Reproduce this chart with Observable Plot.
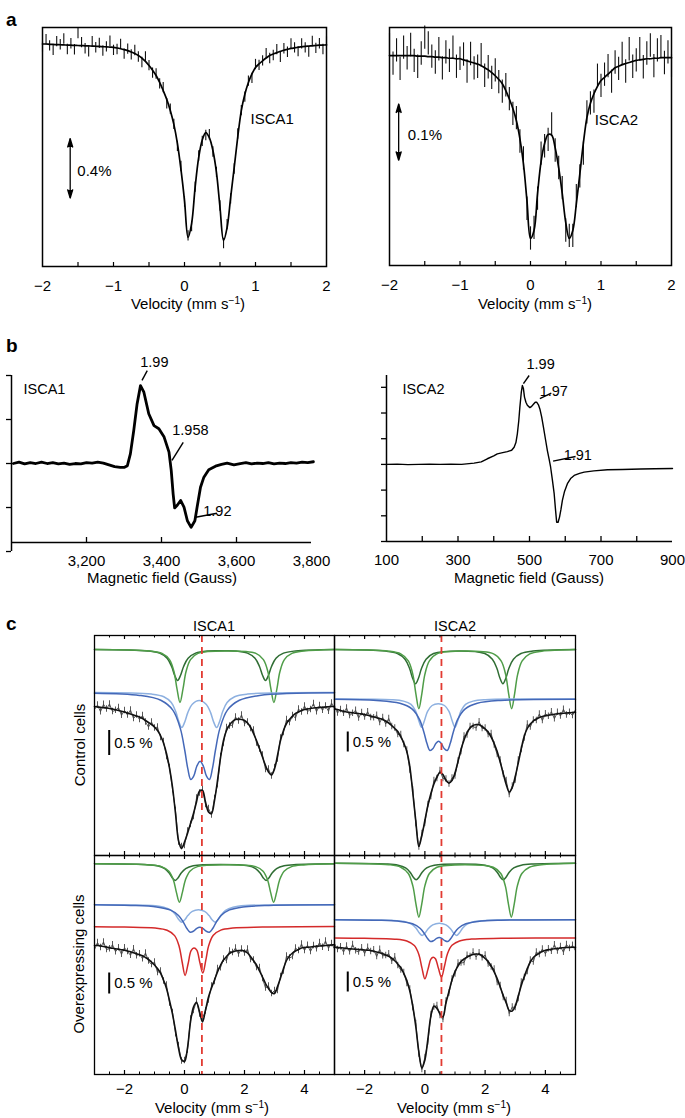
<!DOCTYPE html>
<html><head><meta charset="utf-8">
<script src="https://cdn.jsdelivr.net/npm/d3@7"></script>
<script src="https://cdn.jsdelivr.net/npm/@observablehq/plot@0.6"></script>
<style>
body{margin:0;background:#fff;}
#fig{position:relative;width:685px;height:1118px;overflow:hidden;font-family:"Liberation Sans",Arial,Helvetica,sans-serif;color:#000;background:#fff;}
#fig svg{position:absolute;overflow:visible;}
.lbl{position:absolute;white-space:nowrap;line-height:1;}
.lbl sup{font-size:0.68em;line-height:0;vertical-align:0.5em;}
</style></head><body><div id="fig"></div><script>
// ---------------- DATA ----------------
// Panel a: velocity channels (mm/s) and absorption (%) of fit and residuals of data
const vA = [-2.00,-1.95,-1.90,-1.85,-1.80,-1.75,-1.70,-1.65,-1.60,-1.55,-1.50,-1.45,-1.40,-1.35,-1.30,-1.25,-1.20,-1.15,-1.10,-1.05,-1.00,-0.95,-0.90,-0.85,-0.80,-0.75,-0.70,-0.65,-0.60,-0.55,-0.50,-0.45,-0.40,-0.35,-0.30,-0.25,-0.20,-0.15,-0.10,-0.05,0,0.05,0.10,0.15,0.20,0.25,0.30,0.35,0.40,0.45,0.50,0.55,0.60,0.65,0.70,0.75,0.80,0.85,0.90,0.95,1.00,1.05,1.10,1.15,1.20,1.25,1.30,1.35,1.40,1.45,1.50,1.55,1.60,1.65,1.70,1.75,1.80,1.85,1.90,1.95,2.00];
const fitA1 = [-0.01,-0.01,-0.008,-0.007,-0.006,-0.005,-0.004,-0.003,-0.002,-0.001,
 0,0.001,0.002,0.003,0.004,0.005,0.006,0.008,0.009,0.011,
 0.013,0.017,0.022,0.028,0.035,0.044,0.054,0.068,0.085,0.108,
 0.136,0.167,0.203,0.25,0.305,0.365,0.441,0.535,0.664,0.84,
 1.051,1.30,1.207,0.96,0.759,0.64,0.59,0.625,0.712,0.86,
 1.098,1.322,1.234,1.03,0.827,0.62,0.441,0.33,0.251,0.193,
 0.149,0.125,0.104,0.085,0.068,0.058,0.048,0.04,0.032,0.026,
 0.02,0.016,0.012,0.009,0.006,0.004,0.002,0,-0.002,-0.003,-0.004];
const resA1 = [0.02,-0.03,0.01,0.04,-0.02,0.00,-0.04,0.03,-0.01,0.03,
 -0.08,-0.02,0.02,0.04,-0.03,0.01,-0.02,0.03,0.00,-0.04,
 0.02,0.01,-0.03,0.03,-0.01,0.02,-0.02,0.01,0.03,-0.03,
 0.00,0.02,-0.01,0.01,-0.02,0.03,-0.01,0.00,0.02,-0.02,
 0.01,-0.01,0.02,0.00,-0.01,0.01,0.02,-0.02,0.01,0.00,
 -0.01,0.02,-0.02,0.01,0.01,-0.02,0.00,0.02,-0.01,0.03,
 -0.02,0.01,0.00,-0.03,0.02,0.01,-0.02,0.04,-0.01,0.02,
 -0.03,0.00,0.03,-0.02,0.01,0.04,-0.03,0.02,-0.01,0.03,-0.02];
const errA1 = 0.035;
const fitA2 = [0,0,0,0,0,0,0,0,0.001,0.001,
 0.001,0.002,0.002,0.003,0.003,0.004,0.004,0.005,0.005,0.006,
 0.006,0.008,0.01,0.012,0.014,0.016,0.019,0.023,0.027,0.032,
 0.038,0.045,0.053,0.066,0.082,0.1,0.123,0.157,0.204,0.274,
 0.345,0.33,0.26,0.2,0.166,0.149,0.15,0.174,0.212,0.26,
 0.315,0.345,0.33,0.28,0.223,0.165,0.117,0.09,0.072,0.058,
 0.047,0.041,0.035,0.029,0.023,0.02,0.017,0.015,0.013,0.011,
 0.009,0.008,0.007,0.006,0.006,0.005,0.005,0.004,0.004,0.004,0.004];
const resA2 = [-0.02,0.015,-0.01,0.025,-0.015,0.005,-0.02,0.01,0.02,-0.005,
 -0.035,-0.025,0.0,0.01,-0.015,0.02,-0.01,0.005,-0.02,0.015,
 0.0,-0.01,0.02,-0.015,0.01,0.005,-0.02,0.015,-0.005,0.01,
 -0.01,0.005,0.015,-0.01,0.0,0.01,-0.005,0.005,-0.01,0.015,
 0.0,-0.005,0.01,-0.015,0.005,0.01,-0.02,0.005,0.0,-0.01,
 0.015,-0.005,0.01,-0.015,0.005,0.02,-0.01,0.0,0.015,-0.02,
 0.01,-0.005,-0.015,0.02,-0.01,0.005,-0.02,0.015,-0.025,0.01,
 0.0,-0.02,0.015,-0.01,-0.025,0.015,-0.015,-0.02,0.01,-0.01,0.015];
const errA2 = 0.022;
const ticksA = [-1.5,-1,-0.5,0,0.5,1,1.5];
const labelsA = [-2,-1,0,1,2];

// Panel b: EPR spectra [field (G), signal (a.u.)]
const epr1 = [[3005,0.0],[3020,0.03],[3035,-0.01],[3050,0.02],[3065,0.0],[3080,0.03],[3095,0.0],[3110,0.02],[3125,-0.01],[3140,0.01],[3155,-0.02],[3170,0.0],[3185,-0.01],[3200,0.02],[3215,0.01],[3230,0.03],[3245,0.01],[3260,-0.03],[3275,-0.07],[3290,-0.09],[3300,-0.09],[3309,-0.05],[3317,0.22],[3326,0.75],[3335,1.36],[3344,1.77],[3353,1.62],[3366,1.13],[3380,0.86],[3393,0.79],[3407,0.60],[3420,0.26],[3426,-0.16],[3431,-0.69],[3435,-1.01],[3442,-0.95],[3451,-0.84],[3460,-0.99],[3469,-1.30],[3479,-1.45],[3489,-1.30],[3495,-0.99],[3504,-0.54],[3513,-0.31],[3526,-0.14],[3544,-0.06],[3560,-0.02],[3575,0.01],[3593,-0.03],[3610,0.0],[3625,0.02],[3640,-0.01],[3655,0.01],[3670,0.0],[3685,0.02],[3700,-0.01],[3715,0.01],[3730,0.0],[3745,0.02],[3760,0.01],[3775,0.03],[3790,0.02],[3805,0.04]];
const epr2 = [[100,0.0],[130,0.01],[160,-0.01],[190,0.0],[220,0.01],[250,0.0],[280,0.01],[310,0.0],[345,0.05],[365,0.1],[382,0.22],[400,0.33],[410,0.41],[425,0.46],[438,0.5],[450,0.55],[457,0.67],[462,0.85],[466,1.19],[470,1.7],[473,2.22],[477,2.8],[480,3.07],[483,2.95],[486,2.62],[490,2.42],[494,2.3],[501,2.21],[506,2.26],[511,2.34],[516,2.42],[520,2.42],[525,2.32],[529,2.16],[534,1.85],[539,1.45],[545,0.95],[550,0.54],[555,0.2],[559,-0.1],[564,-0.6],[569,-1.14],[573,-1.8],[576,-2.25],[580,-2.25],[584,-2.05],[588,-1.75],[592,-1.4],[598,-1.05],[606,-0.75],[615,-0.55],[625,-0.43],[640,-0.35],[653,-0.3],[680,-0.25],[718,-0.21],[760,-0.2],[811,-0.18],[850,-0.17],[900,-0.16]];
const notes1 = [{t:"1.99",x:3381,y:2.3,a:"middle",x1:3348,y1:1.89,x2:3362,y2:2.11},{t:"1.958",x:3477,y:0.75,a:"middle",x1:3428,y1:0.07,x2:3458,y2:0.48},{t:"1.92",x:3549,y:-1.09,a:"start",x1:3491,y1:-1.22,x2:3548,y2:-1.13}];
const notes2 = [{t:"1.99",x:531,y:3.89,a:"middle",x1:483,y1:3.14,x2:499,y2:3.46},{t:"1.97",x:568,y:2.84,a:"start",x1:529,y1:2.56,x2:561,y2:2.77},{t:"1.91",x:635,y:0.35,a:"start",x1:566,y1:0.13,x2:629,y2:0.31}];

// Panel c: velocity channels, fits and data residuals (absorption, 0.1 % units, from panel top)
const vC = [-3,-2.9,-2.8,-2.7,-2.6,-2.5,-2.4,-2.3,-2.2,-2.1,-2,-1.9,-1.8,-1.7,-1.6,-1.5,-1.4,-1.3,-1.2,-1.1,-1,-0.9,-0.8,-0.7,-0.6,-0.5,-0.4,-0.3,-0.2,-0.1,0,0.1,0.2,0.3,0.4,0.5,0.6,0.7,0.8,0.9,1,1.1,1.2,1.3,1.4,1.5,1.6,1.7,1.8,1.9,2,2.1,2.2,2.3,2.4,2.5,2.6,2.7,2.8,2.9,3,3.1,3.2,3.3,3.4,3.5,3.6,3.7,3.8,3.9,4,4.1,4.2,4.3,4.4,4.5,4.6,4.7,4.8,4.9,5];
const fitTL = [14.2,14.3,14.35,14.45,14.5,14.6,14.7,14.85,15.0,15.15,
 15.3,15.5,15.7,15.9,16.1,16.3,16.6,17.0,17.4,17.8,
 18.3,19.0,20.0,21.5,23.6,26.5,30.3,35.6,41.0,42.6,
 41.3,39.6,37.6,35.6,33.3,31.1,31.0,33.3,35.3,35.6,
 33.0,29.0,24.5,21.0,19.0,17.9,17.2,16.8,16.7,16.8,
 17.0,17.5,18.3,19.6,21.0,22.6,24.3,26.0,27.3,27.9,
 26.7,24.0,21.0,19.0,17.6,16.8,16.1,15.6,15.3,15.0,
 14.8,14.7,14.6,14.5,14.45,14.4,14.35,14.3,14.25,14.2,14.2];
const fitTR = [14.7,14.8,15.0,15.15,15.3,15.4,15.45,15.55,15.6,15.7,
 15.8,15.95,16.1,16.25,16.45,16.6,16.8,17.1,17.5,18.0,
 18.6,19.2,20.3,21.5,23.2,26.2,31.5,37.2,42.2,40.0,
 37.0,34.0,31.6,29.7,28.3,27.4,27.8,29.0,29.5,29.0,
 27.5,25.2,22.8,20.9,19.4,18.5,18.0,17.8,17.85,18.2,
 18.7,19.3,20.3,21.6,23.2,25.3,27.6,29.8,31.3,30.4,
 28.2,25.5,22.6,20.1,18.6,17.7,17.1,16.7,16.4,16.2,
 16.05,15.95,15.85,15.75,15.65,15.6,15.55,15.5,15.45,15.4,15.35];
const fitBL = [18.0,18.0,18.1,18.2,18.3,18.45,18.55,18.65,18.75,18.85,
 18.95,19.1,19.25,19.45,19.65,19.85,20.05,20.4,20.8,21.3,
 21.9,22.6,23.5,24.9,26.6,29.0,31.7,35.0,38.5,40.8,
 41.2,38.5,33.3,30.3,29.4,31.2,33.3,30.9,28.3,26.5,
 24.9,23.3,21.95,20.9,20.2,19.6,19.3,19.1,19.0,19.0,
 19.1,19.5,20.2,21.0,21.9,23.1,24.3,25.6,26.6,27.4,
 27.6,26.2,24.5,22.6,21.0,20.1,19.5,19.1,18.8,18.5,
 18.4,18.35,18.3,18.2,18.15,18.1,18.05,18.0,17.95,17.9,17.85];
const fitBR = [18.35,18.4,18.45,18.5,18.6,18.65,18.7,18.75,18.8,18.85,
 18.9,18.95,19.0,19.15,19.3,19.45,19.65,19.9,20.15,20.55,
 21.05,21.7,22.4,23.6,25.0,27.1,30.2,34.3,39.3,42.5,
 40.9,36.7,32.1,30.1,30.6,31.6,32.3,29.5,27.2,24.9,
 23.2,22.1,21.2,20.7,20.35,20.0,19.8,19.7,19.75,20.05,
 20.6,21.2,22.1,23.3,24.6,26.3,28.0,29.5,31.0,31.1,
 30.1,28.1,26.0,24.2,22.6,21.3,20.4,19.9,19.5,19.2,
 18.95,18.85,18.75,18.65,18.6,18.5,18.45,18.4,18.38,18.36,18.34];
const resTL = [0.6,-0.4,0.9,-0.7,0.2,-0.9,0.5,0.1,-0.6,0.8,
 -0.3,0.4,-0.8,0.7,-0.2,0.5,-0.6,0.3,0.9,-0.5,
 0.2,-0.7,0.4,-0.3,0.6,-0.1,0.5,-0.6,0.3,-0.4,
 0.7,-0.5,0.2,0.6,-0.8,0.4,-0.2,0.5,-0.7,0.3,
 -0.4,0.8,-0.3,0.5,-0.6,0.2,0.7,-0.5,0.4,-0.9,
 0.6,-0.2,0.3,-0.7,0.5,0.1,-0.4,0.8,-0.6,0.2,
 -0.3,0.7,-0.5,0.4,-0.8,0.6,-0.1,0.9,-0.6,0.3,
 -0.7,0.5,0.2,-0.9,0.8,-0.4,0.6,-0.2,0.9,-0.7,0.4];
const resTR = [-0.5,0.7,-0.2,0.4,-0.8,0.6,0.1,-0.6,0.9,-0.3,
 0.5,-0.7,0.3,0.2,-0.5,0.8,-0.4,0.6,-0.9,0.2,
 -0.1,0.6,-0.5,0.3,-0.3,0.7,-0.6,0.4,0.1,-0.4,
 0.5,-0.2,0.6,-0.7,0.3,-0.4,0.8,-0.3,0.2,-0.5,
 0.6,-0.1,0.4,-0.8,0.5,-0.3,0.2,0.7,-0.6,0.4,
 -0.2,0.5,-0.7,0.3,0.6,-0.4,0.1,-0.8,0.5,-0.3,
 0.7,-0.6,0.2,0.4,-0.9,0.6,-0.2,0.3,-0.7,0.8,
 -0.4,0.2,-0.6,0.9,-0.3,0.5,-0.8,0.4,-0.1,0.6,-0.5];
const resBL = [0.8,-0.6,0.3,-0.9,0.5,0.2,-0.7,0.6,-0.3,0.9,
 -0.5,0.1,0.7,-0.8,0.4,-0.2,0.6,-0.9,0.3,0.5,
 -0.6,0.8,-0.4,0.2,-0.7,0.5,-0.3,0.6,-0.5,0.3,
 -0.2,0.4,-0.6,0.7,-0.3,0.5,-0.8,0.2,0.6,-0.4,
 0.3,-0.7,0.5,-0.2,0.8,-0.5,0.1,-0.6,0.7,-0.3,
 0.4,-0.8,0.6,-0.1,0.5,-0.7,0.3,0.9,-0.5,0.2,
 -0.6,0.8,-0.3,0.5,-0.9,0.4,0.7,-0.6,0.2,-0.8,
 0.6,-0.4,0.9,-0.2,0.5,-0.7,0.3,-0.9,0.6,-0.3,0.8];
const resBR = [-0.7,0.4,-0.2,0.8,-0.5,0.6,-0.9,0.3,0.5,-0.4,
 0.7,-0.6,0.2,-0.3,0.9,-0.7,0.4,0.1,-0.5,0.6,
 -0.8,0.3,0.5,-0.2,0.6,-0.4,0.2,-0.7,0.4,0.3,
 -0.5,0.6,-0.3,0.2,-0.6,0.4,0.5,-0.4,0.3,-0.2,
 0.5,-0.6,0.3,0.7,-0.4,0.2,-0.5,0.6,-0.3,0.4,
 -0.7,0.5,0.2,-0.6,0.8,-0.3,0.4,-0.5,0.6,-0.8,
 0.3,0.5,-0.7,0.2,0.6,-0.4,0.9,-0.6,0.3,-0.5,
 0.7,-0.2,0.4,-0.8,0.5,-0.3,0.9,-0.6,0.2,-0.4,0.7];

// component sub-spectra [velocity, absorption]
const tlG1 = [[-3,2.8],[-1.23,3.09],[-0.83,3.53],[-0.58,4.55],[-0.43,6.2],[-0.33,7.94],[-0.23,9.0],[-0.13,7.94],[-0.03,6.2],[0.12,4.55],[0.37,3.53],[0.77,3.09],[1.24,3.05],[1.7,3.09],[2.1,3.53],[2.35,4.55],[2.5,6.2],[2.6,7.94],[2.7,9.0],[2.8,7.94],[2.9,6.2],[3.05,4.55],[3.3,3.53],[3.7,3.09],[5,2.8]];
const tlG2 = [[-3,2.8],[-1.15,3.1],[-0.75,3.58],[-0.5,4.82],[-0.35,7.24],[-0.25,10.68],[-0.15,13.4],[-0.05,10.68],[0.05,7.24],[0.2,4.82],[0.45,3.58],[1.4,3.1],[2.38,3.58],[2.63,4.82],[2.78,7.24],[2.88,10.68],[2.98,13.4],[3.08,10.68],[3.18,7.24],[3.33,4.82],[3.58,3.58],[3.98,3.1],[5,2.8]];
const tlB1 = [[-3,11.4],[-1.1,11.72],[-0.69,12.24],[-0.44,13.41],[-0.29,15.25],[-0.19,17.19],[-0.09,18.4],[0.01,17.27],[0.11,15.42],[0.26,13.74],[0.49,13.0],[0.72,13.74],[0.87,15.42],[0.97,17.27],[1.07,18.4],[1.17,17.19],[1.27,15.25],[1.42,13.41],[1.67,12.24],[2.1,11.72],[5,11.4]];
const tlB2 = [[-3,11.54],[-1.5,11.98],[-0.79,12.95],[-0.39,14.92],[-0.14,18.58],[0.01,23.0],[0.11,26.64],[0.21,28.8],[0.31,28.08],[0.41,26.14],[0.52,25.16],[0.63,26.14],[0.73,28.08],[0.83,28.8],[0.93,26.64],[1.03,23.0],[1.18,18.58],[1.43,14.92],[1.83,12.95],[2.5,11.98],[5,11.45]];
const trG1 = [[-3,2.8],[-1.31,3.12],[-0.91,3.61],[-0.66,4.74],[-0.51,6.56],[-0.41,8.49],[-0.31,9.66],[-0.21,8.49],[-0.11,6.56],[0.04,4.74],[0.29,3.61],[1.14,3.1],[1.99,3.61],[2.24,4.74],[2.39,6.56],[2.49,8.49],[2.59,9.66],[2.69,8.49],[2.79,6.56],[2.94,4.74],[3.19,3.61],[3.59,3.12],[5,2.8]];
const trG2 = [[-3,2.8],[-1.2,3.13],[-0.8,3.68],[-0.55,5.07],[-0.4,7.77],[-0.3,11.61],[-0.2,14.66],[-0.1,11.61],[0,7.77],[0.15,5.07],[0.4,3.68],[1.34,3.12],[2.28,3.68],[2.53,5.07],[2.68,7.77],[2.78,11.61],[2.88,14.66],[2.98,11.61],[3.08,7.77],[3.23,5.07],[3.48,3.68],[3.88,3.13],[5,2.8]];
const trB1 = [[-3,12.7],[-1.11,12.83],[-0.71,13.12],[-0.46,13.79],[-0.31,15.08],[-0.21,16.88],[-0.11,18.34],[-0.01,16.93],[0.09,15.17],[0.24,14.0],[0.445,13.66],[0.65,14.0],[0.8,15.17],[0.9,16.93],[1.0,18.34],[1.1,16.88],[1.2,15.08],[1.35,13.79],[1.6,13.12],[2.0,12.83],[5,12.7]];
const trB2 = [[-3,12.75],[-1.6,12.99],[-0.83,13.56],[-0.43,14.68],[-0.18,16.77],[-0.03,19.4],[0.07,21.62],[0.17,23.0],[0.27,22.6],[0.37,21.53],[0.455,21.14],[0.54,21.53],[0.64,22.6],[0.74,23.0],[0.84,21.62],[0.94,19.4],[1.09,16.77],[1.34,14.68],[1.74,13.56],[2.51,12.99],[5,12.75]];
const blG1 = [[-3,1.66],[-1.31,1.81],[-0.91,2.05],[-0.66,2.61],[-0.51,3.49],[-0.41,4.43],[-0.31,5.0],[-0.21,4.43],[-0.11,3.49],[0.04,2.61],[0.29,2.05],[1.2,1.8],[2.12,2.05],[2.37,2.61],[2.52,3.49],[2.62,4.43],[2.72,5.0],[2.82,4.43],[2.92,3.49],[3.07,2.61],[3.32,2.05],[3.72,1.81],[5,1.66]];
const blG2 = [[-3,1.66],[-1.17,1.88],[-0.77,2.23],[-0.52,3.13],[-0.37,4.88],[-0.27,7.37],[-0.17,9.34],[-0.07,7.37],[0.03,4.88],[0.18,3.13],[0.43,2.23],[1.4,1.87],[2.37,2.23],[2.62,3.13],[2.77,4.88],[2.87,7.37],[2.97,9.34],[3.07,7.37],[3.17,4.88],[3.32,3.13],[3.57,2.23],[3.97,1.88],[5,1.66]];
const blB1 = [[-3,9.85],[-1.09,10.01],[-0.69,10.34],[-0.44,10.97],[-0.29,11.91],[-0.19,12.82],[-0.09,13.34],[0.01,12.87],[0.11,12.02],[0.26,11.19],[0.465,10.86],[0.67,11.19],[0.82,12.02],[0.92,12.87],[1.02,13.34],[1.12,12.82],[1.22,11.91],[1.37,10.97],[1.62,10.34],[2.02,10.01],[5,9.85]];
const blB2 = [[-3,9.85],[-1.79,9.98],[-0.93,10.28],[-0.48,10.88],[-0.2,12.0],[-0.03,13.41],[0.08,14.61],[0.19,15.34],[0.3,15.13],[0.41,14.56],[0.51,14.36],[0.61,14.56],[0.72,15.13],[0.83,15.34],[0.94,14.61],[1.05,13.41],[1.22,12.0],[1.5,10.88],[1.95,10.28],[2.81,9.98],[5,9.85]];
const blR = [[-3,14.23],[-2,14.32],[-0.98,14.52],[-0.58,14.96],[-0.33,16.03],[-0.18,18.14],[-0.08,21.25],[0.02,23.99],[0.12,21.65],[0.22,19.04],[0.315,18.5],[0.41,18.91],[0.51,21.34],[0.61,23.51],[0.71,20.93],[0.81,17.96],[0.96,15.96],[1.21,14.93],[1.61,14.51],[2.6,14.32],[5,14.22]];
const brG1 = [[-3,1.54],[-1.29,1.69],[-0.89,1.93],[-0.64,2.48],[-0.49,3.36],[-0.39,4.29],[-0.29,4.86],[-0.19,4.29],[-0.09,3.36],[0.06,2.48],[0.31,1.93],[1.16,1.68],[2.0,1.93],[2.25,2.48],[2.4,3.36],[2.5,4.29],[2.6,4.86],[2.7,4.29],[2.8,3.36],[2.95,2.48],[3.2,1.93],[3.6,1.69],[5,1.54]];
const brG2 = [[-3,1.54],[-1.2,1.84],[-0.8,2.34],[-0.55,3.6],[-0.4,6.07],[-0.3,9.56],[-0.2,12.34],[-0.1,9.56],[0,6.07],[0.15,3.6],[0.4,2.34],[1.33,1.83],[2.27,2.34],[2.52,3.6],[2.67,6.07],[2.77,9.56],[2.87,12.34],[2.97,9.56],[3.07,6.07],[3.22,3.6],[3.47,2.34],[3.87,1.84],[5,1.54]];
const brB1 = [[-3,12.85],[-1.09,12.97],[-0.69,13.21],[-0.44,13.73],[-0.29,14.57],[-0.19,15.45],[-0.09,16.0],[0.01,15.49],[0.11,14.64],[0.26,13.88],[0.48,13.54],[0.7,13.88],[0.85,14.64],[0.95,15.49],[1.05,16.0],[1.15,15.45],[1.25,14.57],[1.4,13.73],[1.65,13.21],[2.05,12.97],[5,12.85]];
const brB2 = [[-3,12.83],[-1.58,12.94],[-0.81,13.18],[-0.41,13.66],[-0.16,14.55],[-0.01,15.67],[0.09,16.61],[0.19,17.2],[0.29,17.03],[0.39,16.58],[0.475,16.41],[0.56,16.58],[0.66,17.03],[0.76,17.2],[0.86,16.61],[0.96,15.67],[1.11,14.55],[1.36,13.66],[1.76,13.18],[2.53,12.94],[5,12.83]];
const brR = [[-3,16.5],[-2,16.56],[-1,16.73],[-0.6,17.11],[-0.35,18.02],[-0.2,19.78],[-0.1,22.42],[0,24.66],[0.1,22.82],[0.2,20.72],[0.275,20.34],[0.35,20.64],[0.45,22.57],[0.55,24.34],[0.65,22.15],[0.75,19.64],[0.9,17.96],[1.15,17.09],[1.55,16.72],[2.55,16.56],[5,16.48]];
// scale bars [velocity, from, to] and red reference line velocity
const barTL = [-2.51,19.0,24.0], barTR = [-2.56,19.3,23.3], barBL = [-2.51,23.5,27.7], barBR = [-2.56,23.3,27.3];
const redV = {left: 0.58, right: 0.55};
const ticksCmajor = [-2,0,2,4];
const ticksCminor = [-2.5,-1.5,-1,-0.5,0.5,1,1.5,2.5,3,3.5,4.5];

// ---------------- DRAWING ----------------
const FONT = '"Liberation Sans", Arial, Helvetica, sans-serif';
const fig = document.getElementById("fig");
const C = {gD:"#2f6d33", gL:"#4f9d48", bD:"#4468b8", bL:"#8db0e0", r:"#d42a2a", dash:"#e23b32", data:"#444"};
const baseStyle = {fontFamily: FONT, fontSize: "15px", color: "#000", background: "transparent", overflow: "visible"};

function place(svg, left, top) { svg.style.left = left + "px"; svg.style.top = top + "px"; fig.appendChild(svg); }

function label(html, x, y, o = {}) {
  const size = o.size || 15;
  const d = document.createElement("div");
  d.className = "lbl";
  d.innerHTML = html;
  d.style.fontSize = size + "px";
  if (o.bold) d.style.fontWeight = "bold";
  if (o.rotate) {
    d.style.left = (x - 0.3465 * size) + "px";
    d.style.top = y + "px";
    d.style.transform = "translate(-50%,-50%) rotate(-90deg)";
  } else {
    d.style.left = x + "px";
    d.style.top = (y - 0.8465 * size) + "px";
    if (o.anchor === "middle") d.style.transform = "translateX(-50%)";
  }
  fig.appendChild(d);
}

function panelA(o) {
  const [fl, ft, fw, fh] = o.frame;
  const ml = 20, mr = 10, mt = 10, mb = 34;
  const obs = vA.map((v, i) => ({v, y: o.fit[i] + o.res[i]}));
  const fitD = vA.map((v, i) => ({v, y: o.fit[i]}));
  const svg = Plot.plot({
    width: fw + ml + mr, height: fh + mt + mb,
    marginLeft: ml, marginRight: mr, marginTop: mt, marginBottom: mb,
    style: baseStyle,
    x: {domain: [-2, 2]},
    y: {domain: o.yd, reverse: true, axis: null},
    marks: [
      Plot.ruleX(obs, {x: "v", y1: d => d.y - o.err, y2: d => d.y + o.err, stroke: "#111", strokeWidth: 1.1}),
      Plot.line(fitD, {x: "v", y: "y", curve: "catmull-rom", stroke: "#000", strokeWidth: 1.7}),
      Plot.frame({stroke: "#000", strokeWidth: 1.5}),
      Plot.tickX(ticksA, {x: d => d, insetTop: fh - 4, stroke: "#000", strokeWidth: 1.2}),
      Plot.axisX({ticks: labelsA, tickSize: 0, tickPadding: 14, tickFormat: d3.format("d"), label: null}),
      Plot.ruleX([o.arrow], {x: "v", y1: "y1", y2: "y2", stroke: "#000", strokeWidth: 1.3}),
      Plot.vector([o.arrow], {x: "v", y: "y1", length: 8, r: 2.4, rotate: 0, anchor: "end", shape: "spike", fill: "#000", stroke: "#000"}),
      Plot.vector([o.arrow], {x: "v", y: "y2", length: 8, r: 2.4, rotate: 180, anchor: "end", shape: "spike", fill: "#000", stroke: "#000"}),
      Plot.text(o.texts, {x: "x", y: "y", text: "t", textAnchor: "start", fontSize: 15})
    ]
  });
  place(svg, fl - ml, ft - mt);
}

function panelB(o) {
  const [fl, ft, fw, fh] = o.frame;
  const ml = 20, mr = 25, mt = 30, mb = 34;
  const svg = Plot.plot({
    width: fw + ml + mr, height: fh + mt + mb,
    marginLeft: ml, marginRight: mr, marginTop: mt, marginBottom: mb,
    style: baseStyle,
    x: {domain: o.xd},
    y: {domain: o.yd},
    marks: [
      Plot.ruleY([o.yd[0]], {stroke: "#000", strokeWidth: 1.5}),
      Plot.ruleX([o.xd[0]], {y1: o.yTicks[0], y2: o.yd[1], stroke: "#000", strokeWidth: 1.5}),
      Plot.axisY({ticks: o.yTicks, tickSize: 5, tickFormat: () => "", strokeWidth: 1.3}),
      Plot.tickX(o.xTicks, {x: d => d, insetTop: fh - 5, stroke: "#000", strokeWidth: 1.3}),
      Plot.axisX({ticks: o.xLabels, tickSize: 0, tickPadding: 13, tickFormat: d3.format(","), label: null}),
      Plot.line(o.data, {x: d => d[0], y: d => d[1], stroke: "#000", strokeWidth: o.sw, strokeLinejoin: "round"}),
      Plot.link(o.notes, {x1: "x1", y1: "y1", x2: "x2", y2: "y2", stroke: "#000", strokeWidth: 1.4}),
      Plot.text(o.notes, {x: "x", y: "y", text: "t", textAnchor: "a", fontSize: 14.5}),
      Plot.text([o.name], {x: "x", y: "y", text: "t", textAnchor: "start", fontSize: 14.5})
    ]
  });
  place(svg, fl - ml, ft - mt);
}

function panelC(o) {
  const [fl, ft, fw, fh] = o.frame;
  const ml = 10, mr = 10, mt = 10, mb = o.labels ? 30 : 10;
  const obs = vC.map((v, i) => ({v, u: o.fit[i] + o.res[i]}));
  const fitD = vC.map((v, i) => ({v, u: o.fit[i]}));
  const marks = [
    Plot.ruleX(obs, {x: "v", y1: d => d.u - 0.65, y2: d => d.u + 0.65, stroke: C.data, strokeWidth: 0.9}),
    Plot.line(obs, {x: "v", y: "u", stroke: C.data, strokeWidth: 0.9}),
    ...o.comps.map(c => Plot.line(c[0], {x: d => d[0], y: d => d[1], curve: "catmull-rom", stroke: c[1], strokeWidth: 1.5})),
    Plot.line(fitD, {x: "v", y: "u", curve: "catmull-rom", stroke: "#111", strokeWidth: 1.6}),
    Plot.ruleX([o.red], {x: d => d, stroke: C.dash, strokeWidth: 1.8, strokeDasharray: "7,5"}),
    Plot.ruleX([o.bar], {x: d => d[0], y1: d => d[1], y2: d => d[2], stroke: "#000", strokeWidth: 2}),
    Plot.text([o.bar], {x: d => d[0], y: d => (d[1] + d[2]) / 2, text: () => "0.5 %", textAnchor: "start", dx: 5, fontSize: 15}),
    Plot.frame({stroke: "#000", strokeWidth: 1.3}),
    Plot.tickX(ticksCmajor, {x: d => d, insetTop: fh - 4, stroke: "#000", strokeWidth: 1.2}),
    Plot.tickX(ticksCmajor, {x: d => d, insetBottom: fh - 4, stroke: "#000", strokeWidth: 1.2}),
    Plot.tickX(ticksCminor, {x: d => d, insetTop: fh - 2.5, stroke: "#000", strokeWidth: 1}),
    Plot.tickX(ticksCminor, {x: d => d, insetBottom: fh - 2.5, stroke: "#000", strokeWidth: 1})
  ];
  if (o.labels) marks.push(Plot.axisX({ticks: ticksCmajor, tickSize: 0, tickPadding: 9, label: null}));
  const svg = Plot.plot({
    width: fw + ml + mr, height: fh + mt + mb,
    marginLeft: ml, marginRight: mr, marginTop: mt, marginBottom: mb,
    style: baseStyle,
    x: {domain: [-3, 5], axis: null},
    y: {domain: [0, fh / 5], reverse: true, axis: null},
    marks
  });
  place(svg, fl - ml, ft - mt);
}

// ---- panel a
panelA({frame: [42, 27, 284, 239], yd: [-0.122, 1.498], fit: fitA1, res: resA1, err: errA1,
  arrow: {v: -1.61, y1: 0.633, y2: 1.033},
  texts: [{x: 0.93, y: 0.498, t: "ISCA1"}, {x: -1.51, y: 0.854, t: "0.4%"}]});
panelA({frame: [389, 27, 282, 238], yd: [-0.053, 0.396], fit: fitA2, res: resA2, err: errA2,
  arrow: {v: -1.87, y1: 0.092, y2: 0.197},
  texts: [{x: 0.91, y: 0.121, t: "ISCA2"}, {x: -1.74, y: 0.151, t: "0.1%"}]});

// ---- panel b
panelB({frame: [11, 375, 300, 167], xd: [3000, 3800], yd: [-1.795, 2.0], yTicks: [-2, -1, 0, 1, 2],
  xTicks: [3200, 3400, 3600], xLabels: [3200, 3400, 3600, 3800], data: epr1, sw: 2.8, notes: notes1,
  name: {x: 3032, y: 1.68, t: "ISCA1"}});
panelB({frame: [386, 375, 286, 166], xd: [100, 900], yd: [-3, 3.46], yTicks: [-3, -2, -1, 0, 1, 2, 3],
  xTicks: [200, 300, 400, 500, 600, 700, 800], xLabels: [100, 300, 500, 700, 900], data: epr2, sw: 1.4, notes: notes2,
  name: {x: 145, y: 2.92, t: "ISCA2"}});

// ---- panel c
panelC({frame: [94, 635, 240, 220], fit: fitTL, res: resTL, red: redV.left, bar: barTL,
  comps: [[tlG1, C.gD], [tlG2, C.gL], [tlB1, C.bL], [tlB2, C.bD]]});
panelC({frame: [334, 635, 241, 220], fit: fitTR, res: resTR, red: redV.right, bar: barTR,
  comps: [[trG1, C.gD], [trG2, C.gL], [trB1, C.bL], [trB2, C.bD]]});
panelC({frame: [94, 855, 240, 219], fit: fitBL, res: resBL, red: redV.left, bar: barBL, labels: true,
  comps: [[blG1, C.gD], [blG2, C.gL], [blB1, C.bL], [blB2, C.bD], [blR, C.r]]});
panelC({frame: [334, 855, 241, 219], fit: fitBR, res: resBR, red: redV.right, bar: barBR, labels: true,
  comps: [[brG1, C.gD], [brG2, C.gL], [brB1, C.bL], [brB2, C.bD], [brR, C.r]]});

// ---- text labels
const velo = "Velocity (mm s<sup>−1</sup>)";
label("a", 6, 26, {size: 19, bold: true});
label("b", 6, 352, {size: 19, bold: true});
label("c", 6, 630, {size: 19, bold: true});
label(velo, 188, 309, {anchor: "middle"});
label(velo, 535, 309, {anchor: "middle"});
label("Magnetic field (Gauss)", 162, 583, {anchor: "middle"});
label("Magnetic field (Gauss)", 529, 583, {anchor: "middle"});
label("ISCA1", 214, 631, {anchor: "middle", size: 14.5});
label("ISCA2", 455, 631, {anchor: "middle", size: 14.5});
label("Control cells", 84, 745, {rotate: true});
label("Overexpressing cells", 83, 964, {rotate: true});
label(velo, 212, 1113, {anchor: "middle"});
label(velo, 454, 1113, {anchor: "middle"});
</script></body></html>
